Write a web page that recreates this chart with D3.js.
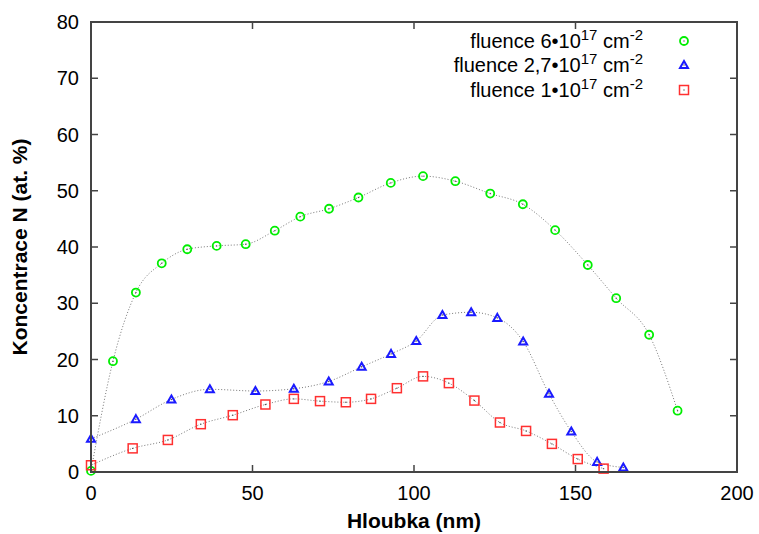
<!DOCTYPE html>
<html>
<head>
<meta charset="utf-8">
<script src="https://cdn.jsdelivr.net/npm/d3@7"></script>
<style>
  body { margin: 0; background: #fff; }
  text { font-family: "Liberation Sans", Arial, sans-serif; fill: #000; }
</style>
</head>
<body>
<div class="chart"></div>
<script>
// depth (nm) and N concentration (at. %) for three fluences
var depth6 = [0, 6.8, 13.9, 21.9, 29.8, 38.9, 47.9, 56.9, 64.8, 73.7, 82.8, 92.8, 102.8, 112.8, 123.6, 133.7, 143.7, 153.8, 162.6, 172.8, 181.6];
var conc6 = [0.2, 19.7, 31.9, 37.1, 39.6, 40.2, 40.5, 42.9, 45.4, 46.8, 48.8, 51.4, 52.6, 51.7, 49.5, 47.6, 43.0, 36.8, 30.9, 24.4, 10.9];

var depth27 = [0, 13.9, 24.9, 36.8, 50.9, 62.8, 73.6, 83.8, 92.9, 100.7, 108.8, 117.7, 125.8, 133.8, 141.8, 148.7, 156.7, 164.8];
var conc27 = [5.9, 9.4, 12.9, 14.7, 14.4, 14.8, 16.1, 18.7, 21.0, 23.3, 27.9, 28.4, 27.4, 23.2, 13.9, 7.2, 1.8, 0.8];

var depth1 = [0, 12.9, 23.8, 34.0, 43.9, 54.0, 62.8, 70.9, 78.9, 86.7, 94.7, 102.8, 110.8, 118.7, 126.6, 134.7, 142.7, 150.7, 158.7];
var conc1 = [1.2, 4.2, 5.7, 8.5, 10.1, 12.0, 13.0, 12.6, 12.4, 13.0, 14.9, 17.0, 15.8, 12.7, 8.8, 7.3, 5.0, 2.3, 0.6];

var xTicks = [0, 50, 100, 150, 200];
var yTicks = [0, 10, 20, 30, 40, 50, 60, 70, 80];

var series = [
  { label: "fluence 6\u202210", exp: "17", x: depth6, y: conc6, color: "#00ee00", shape: "circle" },
  { label: "fluence 2,7\u202210", exp: "17", x: depth27, y: conc27, color: "#1a1aff", shape: "triangle" },
  { label: "fluence 1\u202210", exp: "17", x: depth1, y: conc1, color: "#ff3030", shape: "square" }
];

var margin = { top: 22, right: 22, bottom: 62, left: 91 };
var fullWidth = 759;
var fullHeight = 534;
var width = fullWidth - margin.left - margin.right;
var height = fullHeight - margin.top - margin.bottom;

var svg = d3
  .select(".chart")
  .append("svg")
  .attr("width", fullWidth)
  .attr("height", fullHeight)
  .append("g")
  .attr("transform", `translate(${margin.left}, ${margin.top})`);

var xScale = d3.scaleLinear().domain([0, 200]).range([0, width]);
var yScale = d3.scaleLinear().domain([0, 80]).range([height, 0]);

var tickLen = 7;
var frameColor = "#444";

// ticks (inward, mirrored)
svg.selectAll(".xtick-b").data(xTicks).enter().append("line")
  .attr("x1", d => xScale(d)).attr("x2", d => xScale(d))
  .attr("y1", height).attr("y2", height - tickLen)
  .attr("stroke", frameColor).attr("stroke-width", 1.5);
svg.selectAll(".xtick-t").data(xTicks).enter().append("line")
  .attr("x1", d => xScale(d)).attr("x2", d => xScale(d))
  .attr("y1", 0).attr("y2", tickLen)
  .attr("stroke", frameColor).attr("stroke-width", 1.5);
svg.selectAll(".ytick-l").data(yTicks).enter().append("line")
  .attr("x1", 0).attr("x2", tickLen)
  .attr("y1", d => yScale(d)).attr("y2", d => yScale(d))
  .attr("stroke", frameColor).attr("stroke-width", 1.5);
svg.selectAll(".ytick-r").data(yTicks).enter().append("line")
  .attr("x1", width).attr("x2", width - tickLen)
  .attr("y1", d => yScale(d)).attr("y2", d => yScale(d))
  .attr("stroke", frameColor).attr("stroke-width", 1.5);

// tick labels
svg.selectAll(".xlab").data(xTicks).enter().append("text")
  .attr("x", d => xScale(d)).attr("y", height + 28)
  .attr("text-anchor", "middle").style("font-size", "20px")
  .text(d => d);
svg.selectAll(".ylab").data(yTicks).enter().append("text")
  .attr("x", -12).attr("y", d => yScale(d) + 7)
  .attr("text-anchor", "end").style("font-size", "20px")
  .text(d => d);

// axis titles
svg.append("text")
  .attr("x", width / 2).attr("y", height + 56)
  .attr("text-anchor", "middle")
  .style("font-size", "21px").style("font-weight", "bold")
  .text("Hloubka (nm)");
svg.append("text")
  .attr("transform", `translate(${-64}, ${height / 2}) rotate(-90)`)
  .attr("text-anchor", "middle")
  .style("font-size", "21px").style("font-weight", "bold")
  .text("Koncentrace N (at. %)");

// dotted connecting lines
var line = d3.line()
  .x(d => xScale(d[0]))
  .y(d => yScale(d[1]))
  .curve(d3.curveMonotoneX);

series.forEach(function(s) {
  var pts = s.x.map((v, i) => [v, s.y[i]]);
  svg.append("path")
    .datum(pts)
    .attr("d", line)
    .attr("fill", "none")
    .attr("stroke", "#777")
    .attr("stroke-width", 1)
    .attr("stroke-dasharray", "1,2");
});

function drawMarker(g, shape, color, cx, cy) {
  if (shape === "circle") {
    g.append("circle").attr("cx", cx).attr("cy", cy).attr("r", 4)
      .attr("fill", "none").attr("stroke", color).attr("stroke-width", 1.8);
  } else if (shape === "triangle") {
    var s = 4;
    g.append("path")
      .attr("d", `M${cx},${cy - s} L${cx + s},${cy + s * 0.75} L${cx - s},${cy + s * 0.75} Z`)
      .attr("fill", "none").attr("stroke", color).attr("stroke-width", 2);
  } else {
    g.append("rect").attr("x", cx - 4.5).attr("y", cy - 4.5)
      .attr("width", 9).attr("height", 9)
      .attr("fill", "none").attr("stroke", color).attr("stroke-width", 1.5);
  }
  g.append("circle").attr("cx", cx).attr("cy", cy).attr("r", 0.7).attr("fill", "#555");
}

series.forEach(function(s) {
  var g = svg.append("g");
  s.x.forEach(function(v, i) {
    drawMarker(g, s.shape, s.color, xScale(v), yScale(s.y[i]));
  });
});

// frame
svg.append("rect")
  .attr("x", 0).attr("y", 0).attr("width", width).attr("height", height)
  .attr("fill", "none").attr("stroke", frameColor).attr("stroke-width", 2);

// legend
var legendRows = [26, 50, 75];
series.forEach(function(s, i) {
  var t = svg.append("text")
    .attr("x", 552).attr("y", legendRows[i])
    .attr("text-anchor", "end")
    .style("font-size", "20px");
  t.append("tspan").text(s.label);
  t.append("tspan").attr("dy", -8).style("font-size", "15px").text(s.exp);
  t.append("tspan").attr("dy", 8).text(" cm");
  t.append("tspan").attr("dy", -8).style("font-size", "15px").text("-2");
  drawMarker(svg.append("g"), s.shape, s.color, 593, legendRows[i] - 7);
});
</script>
</body>
</html>
